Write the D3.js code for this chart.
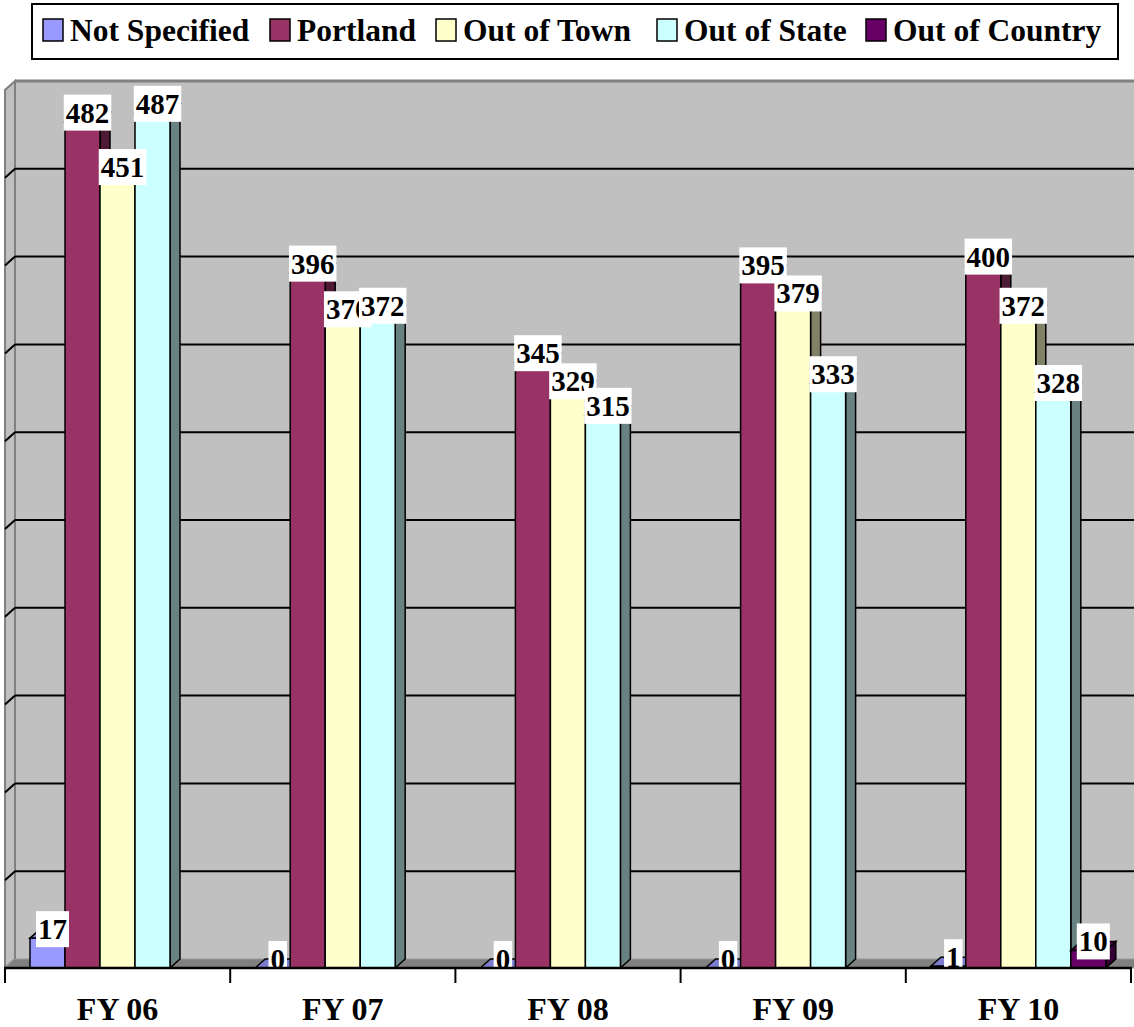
<!DOCTYPE html>
<html>
<head>
<meta charset="utf-8">
<script src="https://cdn.jsdelivr.net/npm/d3@7"></script>
<style>
  body { margin: 0; background: #fff; }
  text { font-family: "Liberation Serif", "DejaVu Serif", serif; font-weight: bold; }
</style>
</head>
<body>
<svg width="1134" height="1027"></svg>
<script>
var years = ["FY 06", "FY 07", "FY 08", "FY 09", "FY 10"];
var seriesNames = ["Not Specified", "Portland", "Out of Town", "Out of State", "Out of Country"];
var colors = ["#9999ff", "#993366", "#ffffcc", "#ccffff", "#660066"];

var notSpecified = [17, 0, 0, 0, 1];
var portland = [482, 396, 345, 395, 400];
var outOfTown = [451, 370, 329, 379, 372];
var outOfState = [487, 372, 315, 333, 328];
var outOfCountry = [null, null, null, null, 10];
var values = [notSpecified, portland, outOfTown, outOfState, outOfCountry];

var svg = d3.select("svg");
var dx = 10, dy = 9;

var x = d3.scaleBand().domain(years).range([5, 1131]);
var xs = d3.scaleBand().domain(seriesNames).range([25, 200]);
var y = d3.scaleLinear().domain([0, 500]).range([968, 90]);

var line = d3.line();

// walls and floor
var g = svg.append("g");
g.append("path")
  .attr("d", line([[5 + dx, y(500) - dy], [1131 + dx + 20, y(500) - dy], [1131 + dx + 20, y(0) - dy], [5 + dx, y(0) - dy]]) + "Z")
  .attr("fill", "#c0c0c0");
g.append("path")
  .attr("d", line([[5, y(0)], [5, y(500)], [5 + dx, y(500) - dy], [5 + dx, y(0) - dy]]) + "Z")
  .attr("fill", "#c0c0c0")
  .attr("stroke", "#808080")
  .attr("stroke-width", 2);
g.append("path")
  .attr("d", line([[5, y(0)], [5 + dx, y(0) - dy], [1131 + dx + 20, y(0) - dy], [1131 + 20, y(0)]]) + "Z")
  .attr("fill", "#808080")
  .attr("stroke", "#999999")
  .attr("stroke-width", 1);
g.append("line")
  .attr("x1", 5 + dx).attr("x2", 1134)
  .attr("y1", y(500) - dy).attr("y2", y(500) - dy)
  .attr("stroke", "#808080").attr("stroke-width", 3);

// gridlines
var gridVals = d3.range(50, 500, 50);
gridVals.forEach(function(v) {
  g.append("line")
    .attr("x1", 5 + dx).attr("x2", 1134)
    .attr("y1", y(v) - dy).attr("y2", y(v) - dy)
    .attr("stroke", "#000").attr("stroke-width", 2);
  g.append("line")
    .attr("x1", 5).attr("x2", 5 + dx)
    .attr("y1", y(v)).attr("y2", y(v) - dy)
    .attr("stroke", "#000").attr("stroke-width", 2);
});

// bars
var bars = svg.append("g");
years.forEach(function(yr, c) {
  seriesNames.forEach(function(s, i) {
    var v = values[i][c];
    if (v == null) return;
    var x0 = x(yr) + xs(s), w = xs.bandwidth();
    var yt = y(v), yb = y(0);
    var col = d3.color(colors[i]);
    bars.append("path")
      .attr("d", line([[x0 + w, yt], [x0 + w + dx, yt - dy], [x0 + w + dx, yb - dy], [x0 + w, yb]]) + "Z")
      .attr("fill", col.darker(1.9))
      .attr("stroke", "#000").attr("stroke-width", 1.5);
    bars.append("path")
      .attr("d", line([[x0, yt], [x0 + dx, yt - dy], [x0 + w + dx, yt - dy], [x0 + w, yt]]) + "Z")
      .attr("fill", col.darker(0.6))
      .attr("stroke", "#000").attr("stroke-width", 1.5);
    if (v > 0) {
      bars.append("rect")
        .attr("x", x0).attr("y", yt)
        .attr("width", w).attr("height", yb - yt)
        .attr("fill", colors[i])
        .attr("stroke", "#000").attr("stroke-width", 1.5);
    }
  });
});

// data labels
var labels = svg.append("g");
years.forEach(function(yr, c) {
  seriesNames.forEach(function(s, i) {
    var v = values[i][c];
    if (v == null) return;
    var cx = x(yr) + xs(s) + xs.bandwidth() / 2 + dx / 2;
    var cy = y(v) - dy;
    var lg = labels.append("g");
    var r = lg.append("rect").attr("fill", "#fff");
    var t = lg.append("text")
      .attr("x", cx).attr("y", cy + 10)
      .attr("text-anchor", "middle")
      .attr("font-size", 29)
      .text(v);
    var tw = t.node().getComputedTextLength();
    r.attr("x", cx - tw / 2 - 2).attr("y", cy - 18)
      .attr("width", tw + 4).attr("height", 36);
  });
});

// x axis
var axis = svg.append("g");
axis.append("rect").attr("x", 0).attr("y", 969).attr("width", 1134).attr("height", 58).attr("fill", "#fff");
axis.append("line")
  .attr("x1", 4).attr("x2", 1132)
  .attr("y1", 968).attr("y2", 968)
  .attr("stroke", "#000").attr("stroke-width", 2.5);
years.map(function(d) { return x(d); }).concat([x.range()[1]]).forEach(function(px) {
  axis.append("line")
    .attr("x1", px).attr("x2", px)
    .attr("y1", 968).attr("y2", 983)
    .attr("stroke", "#000").attr("stroke-width", 2);
});
axis.selectAll(".cat")
  .data(years)
  .enter().append("text")
  .attr("class", "cat")
  .attr("x", function(d) { return x(d) + x.bandwidth() / 2; })
  .attr("y", 1020)
  .attr("text-anchor", "middle")
  .attr("font-size", 32)
  .text(function(d) { return d; });

// legend
var legendX = [43, 270, 436, 657, 866];
var legend = svg.append("g");
legend.append("rect")
  .attr("x", 32).attr("y", 4).attr("width", 1086).attr("height", 55)
  .attr("fill", "#fff").attr("stroke", "#000").attr("stroke-width", 2);
seriesNames.forEach(function(s, i) {
  legend.append("rect")
    .attr("x", legendX[i]).attr("y", 19).attr("width", 20).attr("height", 22)
    .attr("fill", colors[i]).attr("stroke", "#000").attr("stroke-width", 1.5);
  legend.append("text")
    .attr("x", legendX[i] + 27).attr("y", 41)
    .attr("font-size", 31.5)
    .text(s);
});
</script>
</body>
</html>
